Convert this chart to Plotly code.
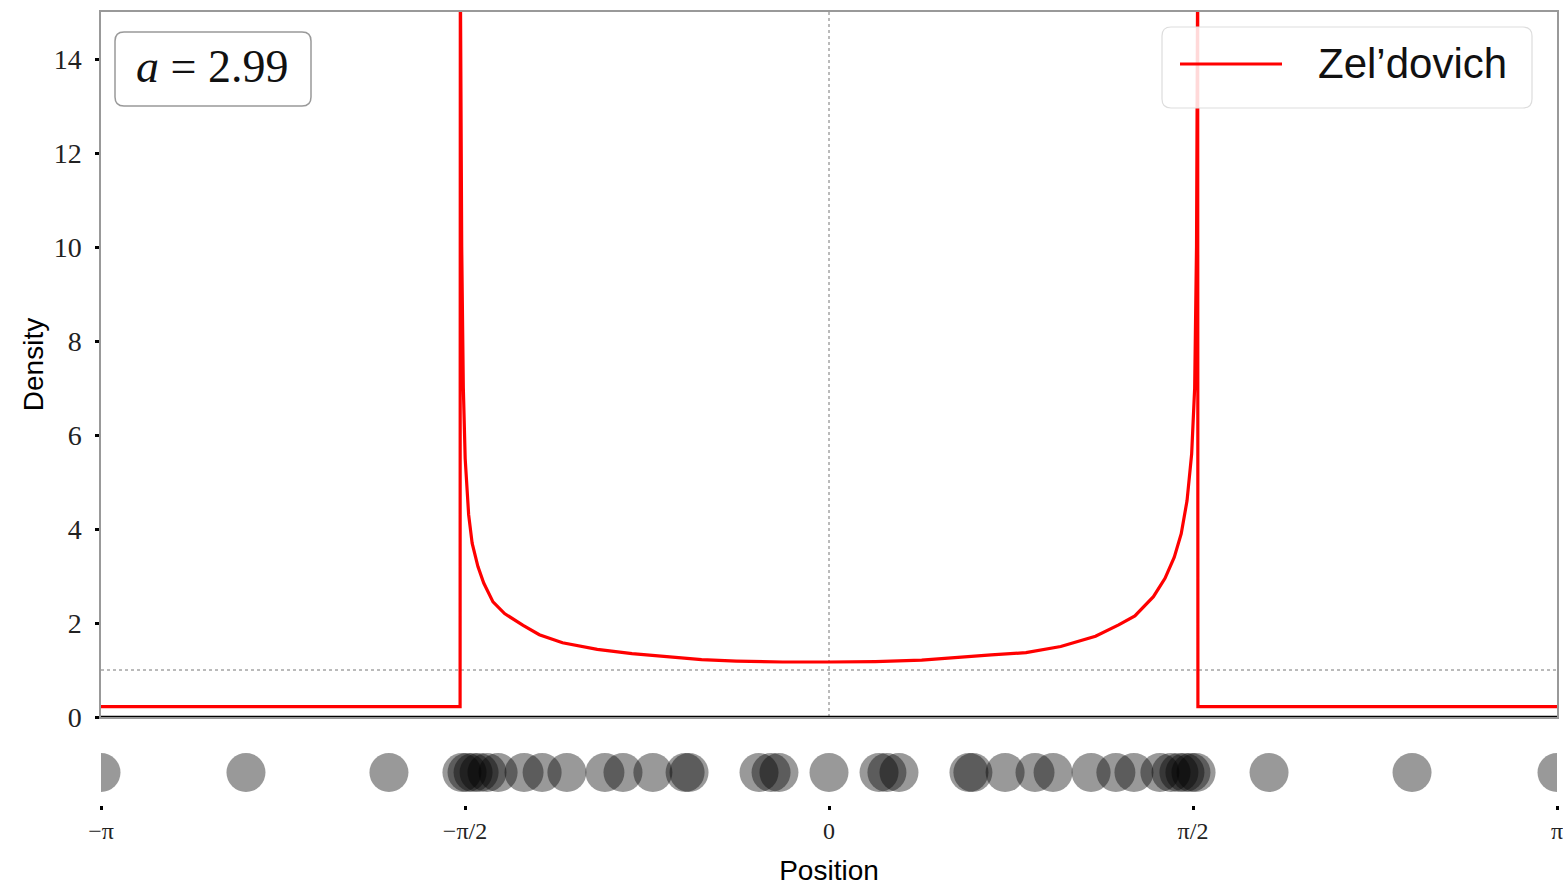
import numpy as np
import plotly.graph_objects as go

PI = np.pi

# ---- data ----
density_x = [-3.1416, -1.592, -1.591, -1.585, -1.578, -1.570, -1.555, -1.540, -1.515, -1.490,
             -1.450, -1.400, -1.320, -1.250, -1.150, -1.000, -0.850, -0.700, -0.550, -0.400,
             -0.200, 0.000, 0.200, 0.400, 0.550, 0.700, 0.850, 1.000, 1.150, 1.250, 1.320,
             1.400, 1.450, 1.490, 1.520, 1.545, 1.565, 1.578, 1.586, 1.591, 1.592, 3.1416]
density_y = [0.22, 0.22, 16.0, 10.0, 7.0, 5.5, 4.3, 3.7, 3.2, 2.85,
             2.45, 2.20, 1.95, 1.75, 1.58, 1.44, 1.35, 1.28, 1.22, 1.19,
             1.17, 1.17, 1.18, 1.21, 1.27, 1.32, 1.37, 1.50, 1.72, 1.96, 2.15,
             2.56, 2.95, 3.40, 3.90, 4.60, 5.60, 7.0, 10.0, 16.0, 0.22, 0.22]

particle_x = [-3.1416, -2.516, -1.899,
              -1.584, -1.562, -1.536, -1.510, -1.476, -1.428, -1.316, -1.238, -1.131,
              -0.967, -0.889, -0.760, -0.621, -0.604,
              -0.302, -0.250, -0.216, 0.000, 0.216, 0.250, 0.302,
              0.604, 0.621, 0.760, 0.889, 0.967,
              1.131, 1.238, 1.316, 1.428, 1.476, 1.510, 1.536, 1.562, 1.584,
              1.899, 2.516, 3.1416]

x_tickvals = [-PI, -PI / 2, 0, PI / 2, PI]
x_ticktext = ["\u2212\u03c0", "\u2212\u03c0/2", "0", "\u03c0/2", "\u03c0"]
y_tickvals = [0, 2, 4, 6, 8, 10, 12, 14]
series_name = "Zel\u2019dovich"
scale_label = "<i>a</i> = 2.99"

# ---- layout helpers (pixel -> paper) ----
W, H = 1563, 893
ML, MR, MT, MB = 101, 6, 12, 88
PW, PH = W - ML - MR, H - MT - MB


def pxx(x):
    return (x - ML) / PW


def pxy(y):
    return (H - MB - y) / PH


def rounded_rect(x0p, y0p, x1p, y1p, r=8):
    x0, x1 = pxx(x0p), pxx(x1p)
    yt, yb = pxy(y0p), pxy(y1p)
    rx, ry = r / PW, r / PH
    return (f"M {x0+rx},{yb} L {x1-rx},{yb} Q {x1},{yb} {x1},{yb+ry} "
            f"L {x1},{yt-ry} Q {x1},{yt} {x1-rx},{yt} L {x0+rx},{yt} "
            f"Q {x0},{yt} {x0},{yt-ry} L {x0},{yb+ry} Q {x0},{yb} {x0+rx},{yb} Z")


fig = go.Figure()
fig.add_trace(go.Scatter(x=density_x, y=density_y, mode="lines", name=series_name,
                         line=dict(color="#ff0000", width=3.2), showlegend=False,
                         xaxis="x", yaxis="y"))
fig.add_trace(go.Scatter(x=particle_x, y=[0] * len(particle_x), mode="markers",
                         marker=dict(size=39, color="black", opacity=0.4, line=dict(width=0)),
                         showlegend=False, xaxis="x2", yaxis="y2"))

serif = "Liberation Serif, DejaVu Serif, serif"
sans = "Liberation Sans, Arial, sans-serif"
tick_font = dict(family=serif, size=24, color="#222")

fig.update_layout(
    width=W, height=H, autosize=False,
    margin=dict(l=ML, r=MR, t=MT, b=MB, pad=0),
    paper_bgcolor="white", plot_bgcolor="white",
    xaxis=dict(domain=[0, 1], anchor="y", range=[-PI, PI], showticklabels=False, ticks="",
               showline=True, linecolor="#999", linewidth=1.5, mirror=True,
               showgrid=False, zeroline=False, automargin=False),
    yaxis=dict(domain=[pxy(717), 1], anchor="x", range=[0, 15], tickvals=y_tickvals,
               ticks="outside", ticklen=4, tickwidth=3, tickcolor="black",
               tickfont=dict(family=serif, size=28, color="#222"), ticklabelstandoff=8,
               showline=True, linecolor="#999", linewidth=1.5, mirror=True,
               showgrid=False, zeroline=False, automargin=False,
               title=dict(text="Density", font=dict(family=sans, size=28, color="black"),
                          standoff=2)),
    xaxis2=dict(domain=[0, 1], anchor="y2", range=[-PI, PI], tickvals=x_tickvals,
                ticktext=x_ticktext[:-1] + [""], ticks="outside", ticklen=4, tickwidth=3,
                tickcolor="black", tickfont=tick_font,
                showline=False, showgrid=False, zeroline=False, automargin=False,
                title=dict(text="Position", font=dict(family=sans, size=28, color="black"),
                           standoff=17)),
    yaxis2=dict(domain=[0, pxy(740)], anchor="x2", range=[-1, 1], visible=False,
                automargin=False),
)

shapes = [
    dict(type="line", xref="x", yref="y", x0=0, x1=0, y0=0, y1=15,
         line=dict(color="#777", width=1, dash="dot"), layer="below"),
    dict(type="line", xref="x", yref="y", x0=-PI, x1=PI, y0=1, y1=1,
         line=dict(color="#777", width=1, dash="dot"), layer="below"),
    dict(type="line", xref="x", yref="y", x0=-PI, x1=PI, y0=0, y1=0,
         line=dict(color="black", width=2.5), layer="above"),
    dict(type="path", xref="paper", yref="paper", path=rounded_rect(115, 32, 311, 106, 9),
         line=dict(color="#999", width=1.5), fillcolor="rgba(255,255,255,0.85)", layer="above"),
    dict(type="path", xref="paper", yref="paper", path=rounded_rect(1162, 27, 1532, 108, 9),
         line=dict(color="#ddd", width=1.2), fillcolor="rgba(255,255,255,0.85)", layer="above"),
    dict(type="line", xref="paper", yref="paper", x0=pxx(1180), x1=pxx(1282),
         y0=pxy(64), y1=pxy(64), line=dict(color="#ff0000", width=3), layer="above"),
]
fig.update_layout(shapes=shapes)

fig.update_layout(annotations=[
    dict(xref="paper", yref="paper", x=pxx(212), y=pxy(67), text=scale_label,
         showarrow=False, xanchor="center", yanchor="middle",
         font=dict(family=serif, size=46, color="#111")),
    dict(xref="paper", yref="paper", x=pxx(1316), y=pxy(64), text=series_name,
         showarrow=False, xanchor="left", yanchor="middle",
         font=dict(family=sans, size=42, color="#111")),
    # last x tick label (at +pi), which overhangs the right edge as in the reference
    dict(xref="x2", yref="paper", x=x_tickvals[-1], y=pxy(831), text=x_ticktext[-1],
         showarrow=False, xanchor="center", yanchor="middle", font=tick_font),
])

fig.write_html("out.html", config={"responsive": False})
